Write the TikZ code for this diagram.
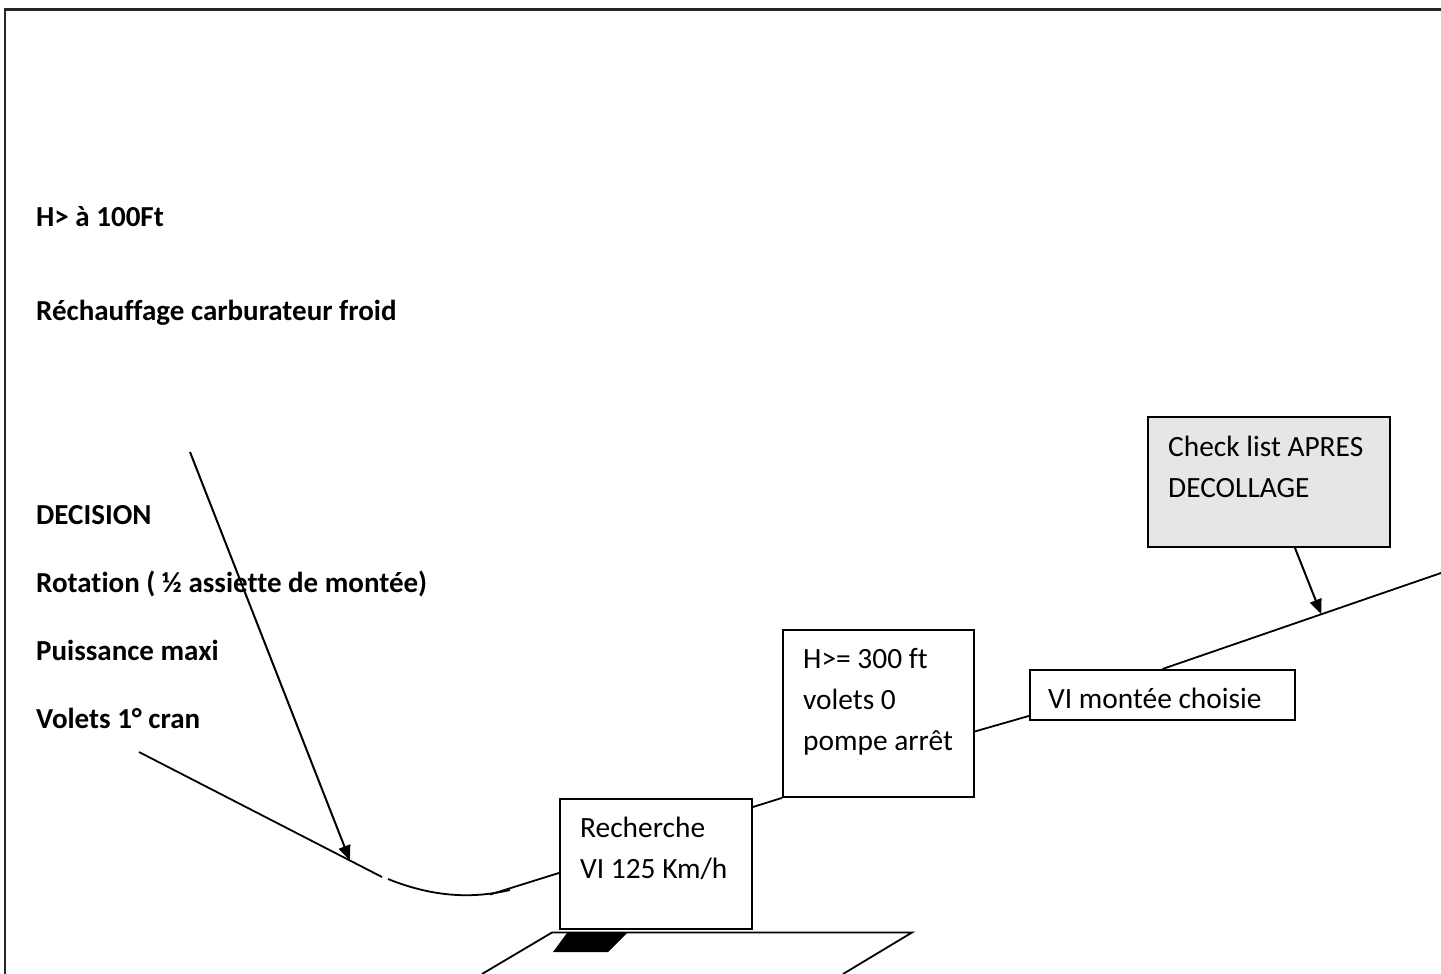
\documentclass[tikz,border=0pt]{standalone}
\usepackage{fontspec}
\setmainfont{Carlito}[Ligatures=NoCommon]
\usetikzlibrary{arrows.meta,calc}
\definecolor{boxgray}{HTML}{E6E6E6}
\tikzset{
  box/.style={draw, line width=1.9pt, inner sep=0pt, anchor=north west},
  boxtxt/.style={anchor=north west, inner sep=0pt, align=left, font=\fontsize{29.4}{41}\selectfont},
  lefttxt/.style={anchor=base west, inner sep=0pt, font=\fontsize{29}{34}\selectfont\bfseries},
  conn/.style={line width=1.8pt},
  arr/.style={line width=2pt, -{Triangle[length=15pt,width=12pt]}},
  frame/.style={line width=2.5pt, black!85}
}
\begin{document}
\begin{tikzpicture}[x=1pt,y=-1pt]
\useasboundingbox (0,0) rectangle (1441,974);
% page frame
\coordinate (fTL) at (5,9.5);
\coordinate (fTR) at (1441,9.5);
\coordinate (fBL) at (5,974);
\draw[frame] (fTR) -- (fTL) -- (fBL);

% left texts
\node[lefttxt] (t1) at (36,226) {H> à 100Ft};
\node[lefttxt] (t2) at (36,320) {Réchauffage carburateur froid};
\node[lefttxt] (t3) at (36,524) {DECISION};
\node[lefttxt] (t4) at (36,592) {Rotation ( ½ assiette de montée)};
\node[lefttxt] (t5) at (36,660) {Puissance maxi};
\node[lefttxt] (t6) at (36,728) {Volets 1° cran};

% boxes
\node[box, minimum width=192pt, minimum height=130pt] (rech) at (559,798) {};
\node[boxtxt] (rechT) at (580,808.3) {\strut Recherche\\VI 125 Km/h};
\node[box, minimum width=191pt, minimum height=167pt] (hbox) at (782,629) {};
\node[boxtxt] (hboxT) at (803,639.3) {\strut H>= 300 ft\\volets 0\\pompe arrêt};
\node[box, minimum width=265pt, minimum height=50pt] (vibox) at (1029,669) {};
\node[boxtxt] (viboxT) at (1048,679.3) {\strut VI montée choisie};
\node[box, fill=boxgray, minimum width=242pt, minimum height=130pt] (check) at (1147,416) {};
\node[boxtxt] (checkT) at (1168,427.3) {\strut Check list APRES\\DECOLLAGE};

% flight path
\coordinate (appStart) at (139,752);
\coordinate (gapA) at (382,877);
\coordinate (gapB) at (388,879);
\coordinate (curveEnd) at (510,890);
\coordinate (rechLow) at (490,894.5);
\coordinate (climbEnd) at (1441,573);
\coordinate (decStart) at (190,452);
\draw[conn] (appStart) -- (gapA);
\draw[conn] (gapB) .. controls (440,900) and (480,897) .. (curveEnd);
\draw[conn] ([yshift=-9pt]rech.west) -- (rechLow);
\draw[conn] ([yshift=-9pt]rech.north east) -- (hbox.south west);
\draw[conn] ([yshift=-18pt]hbox.east) -- ([yshift=5pt]vibox.south west);
\draw[conn] (vibox.north) -- (climbEnd);

% arrows
\draw[arr] (decStart) -- ($(appStart)!0.868!(gapA)$);
\draw[arr] ([xshift=26pt]check.south) -- ($(vibox.north)!0.57!(climbEnd)$);

% runway
\coordinate (rwBL) at (482,974);
\coordinate (rwTL) at (552,932.5);
\coordinate (rwTR) at (912,932.5);
\coordinate (rwBR) at (843,974);
\draw[conn] (rwBL) -- (rwTL) -- (rwTR) -- (rwBR);
\fill (553,952) -- (567,933) -- (627,933) -- (608,952) -- cycle;
\end{tikzpicture}
\end{document}
